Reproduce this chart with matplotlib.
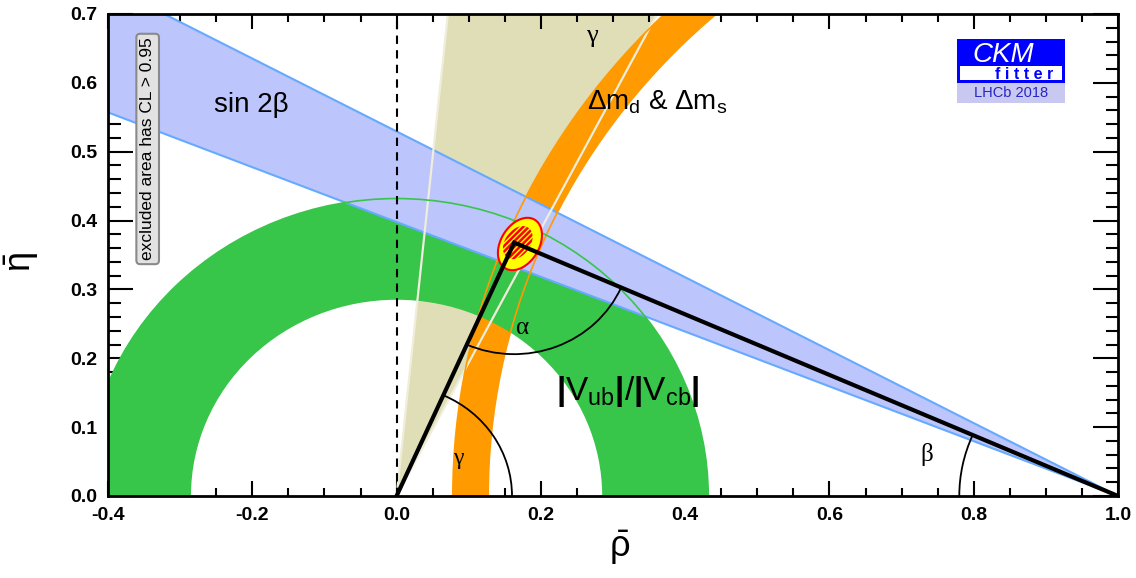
#imports
import numpy as np
import matplotlib
matplotlib.use('Agg')
import matplotlib.pyplot as plt
from matplotlib.patches import Polygon, Wedge, Arc, Rectangle
from matplotlib.ticker import MultipleLocator, FormatStrFormatter

plt.rcParams['font.family'] = 'Liberation Sans'
plt.rcParams['mathtext.fontset'] = 'custom'
plt.rcParams['mathtext.rm'] = 'Liberation Sans'
plt.rcParams['mathtext.it'] = 'Liberation Sans:italic'
plt.rcParams['mathtext.bf'] = 'Liberation Sans:bold'
plt.rcParams['axes.unicode_minus'] = False
plt.rcParams['hatch.linewidth'] = 1.8

# plot ranges
rho_range = [-0.4, 1.0]
eta_range = [0.0, 0.7]

# constraint bands
sin2beta_deg = [21.7, 27.9]        # band edges seen from (1,0)
gamma_deg = [62.7, 84.2]           # band edges seen from (0,0)
vub_radius = [0.285, 0.432]        # |Vub|/|Vcb| ring around (0,0)
dm_center = 1.06
dm_radius = [0.933, 0.982]         # dm_d & dm_s ring

# global fit
apex = [0.163, 0.368]
fit_center = [0.171, 0.366]
fit_width95 = [0.0305, 0.038]
fit_width68 = [0.0205, 0.024]
fit_tilt = 0.35

# angle arcs
arc_radius = {'alpha': 0.162, 'beta': 0.22, 'gamma': 0.16}

# colours
c_blue = '#bcc5fc'
c_blue_edge = '#66aaff'
c_green = '#37c54a'
c_orange = '#ff9a00'
c_beige = '#dfdeb6'
c_beige_line = '#f0eedb'

fig = plt.figure(figsize=(11.36, 5.78), dpi=100)
ax = fig.add_axes([108/1136, 82/578, 1010/1136, 482/578])
ax.set_xlim(rho_range)
ax.set_ylim(eta_range)

# gamma wedge from origin
far = 2.0
g_pts = [(0, 0)] + [(far*np.cos(np.radians(a)), far*np.sin(np.radians(a))) for a in gamma_deg]
ax.add_patch(Polygon(g_pts, closed=True, fc=c_beige, ec='none', zorder=1))

# dm ring
ax.add_patch(Wedge((dm_center, 0), dm_radius[1], 90, 180, width=dm_radius[1]-dm_radius[0],
                   fc=c_orange, ec='none', zorder=2))

# vub ring
ax.add_patch(Wedge((0, 0), vub_radius[1], 0, 180, width=vub_radius[1]-vub_radius[0],
                   fc=c_green, ec='none', zorder=3))

# sin 2beta band from (1,0)
b_pts = [(1, 0)] + [(1 - far*np.cos(np.radians(a)), far*np.sin(np.radians(a))) for a in sin2beta_deg]
ax.add_patch(Polygon(b_pts, closed=True, fc=c_blue, ec='none', zorder=4))
for a in sin2beta_deg:
    ax.plot([1, 1 - far*np.cos(np.radians(a))], [0, far*np.sin(np.radians(a))],
            color=c_blue_edge, lw=1.5, zorder=5)

# contour outlines drawn over the fills
for a in gamma_deg:
    ax.plot([0, far*np.cos(np.radians(a))], [0, far*np.sin(np.radians(a))],
            color=c_beige_line, lw=1.6, zorder=6)
for r in dm_radius:
    ax.add_patch(Arc((dm_center, 0), 2*r, 2*r, theta1=90, theta2=180,
                     color=c_orange, lw=1.2, zorder=6))
ax.add_patch(Arc((0, 0), 2*vub_radius[1], 2*vub_radius[1], theta1=0, theta2=180,
                 color=c_green, lw=1.2, zorder=6))

# rho = 0 line
ax.plot([0, 0], eta_range, color='black', lw=1.5, ls=(0, (4, 3)), zorder=6)

# global fit blob
t = np.linspace(0, 2*np.pi, 200)
ex = fit_center[0] + fit_width95[0]*np.cos(t)
ey = fit_center[1] + fit_width95[1]*np.sin(t + fit_tilt)
ax.add_patch(Polygon(np.column_stack([ex, ey]), closed=True, fc='yellow', ec='red', lw=1.5, zorder=7))
hx = fit_center[0] - 0.003 + fit_width68[0]*np.cos(t)
hy = fit_center[1] + 0.002 + fit_width68[1]*np.sin(t + fit_tilt)
ax.add_patch(Polygon(np.column_stack([hx, hy]), closed=True, fill=False, hatch='//////',
                     ec='red', lw=0, zorder=8))

# unitarity triangle
ax.plot([0, apex[0], 1], [0, apex[1], 0], color='black', lw=3, solid_joinstyle='miter', zorder=9)

ang_left = np.degrees(np.arctan2(-apex[1], -apex[0])) % 360
ang_right = np.degrees(np.arctan2(-apex[1], 1 - apex[0])) % 360
beta_ang = np.degrees(np.arctan2(apex[1], 1 - apex[0]))
gamma_ang = np.degrees(np.arctan2(apex[1], apex[0]))

ra, rb, rg = arc_radius['alpha'], arc_radius['beta'], arc_radius['gamma']
ax.add_patch(Arc(apex, 2*ra, 2*ra, theta1=ang_left, theta2=ang_right, color='black', lw=1.3, zorder=9))
ax.add_patch(Arc((1, 0), 2*rb, 2*rb, theta1=180 - beta_ang, theta2=180, color='black', lw=1.3, zorder=9))
ax.add_patch(Arc((0, 0), 2*rg, 2*rg, theta1=0, theta2=gamma_ang, color='black', lw=1.3, zorder=9))

# labels in the plot
greek = 'Liberation Serif'
ax.text(0.175, 0.244, 'α', family=greek, fontsize=18, ha='center', va='center', zorder=10)
ax.text(0.085, 0.055, 'γ', family=greek, fontsize=17, ha='center', va='center', zorder=10)
ax.text(0.735, 0.060, 'β', family=greek, fontsize=18, ha='center', va='center', zorder=10)
ax.text(0.271, 0.668, 'γ', family=greek, fontsize=19, ha='center', va='center', zorder=10)
ax.text(-0.202, 0.568, 'sin 2β', fontsize=20, ha='center', va='center', zorder=10)
ax.text(0.264, 0.572, r'$\mathrm{\Delta m_d}$ & $\mathrm{\Delta m_s}$', fontsize=20,
        ha='left', va='center', zorder=10)
ax.text(0.321, 0.152, r'$\mathbf{|}\mathrm{V_{ub}}\mathbf{|}\mathrm{/}\mathbf{|}\mathrm{V_{cb}}\mathbf{|}$',
        fontsize=24, ha='center', va='center', zorder=10)
ax.text(-0.345, 0.504, 'excluded area has CL > 0.95', rotation=90, fontsize=12.5,
        ha='center', va='center', zorder=10,
        bbox=dict(boxstyle='round,pad=0.22', fc='#e2e2e2', ec='#8a8a8a', lw=1.5))

# CKMfitter logo, placed in pixel units of the frame
def px(x, y):
    return ((x - 108) / 1010, (496 - y) / 482)

ax.add_patch(Rectangle(px(957, 83), 108/1010, 44/482, transform=ax.transAxes,
                       fc='#0000ff', ec='none', zorder=11))
ax.add_patch(Rectangle(px(960, 80), 102/1010, 14/482, transform=ax.transAxes,
                       fc='white', ec='none', zorder=12))
ax.add_patch(Rectangle(px(957, 103), 108/1010, 20/482, transform=ax.transAxes,
                       fc='#c8c8f0', ec='none', zorder=11))
ax.text(*px(1003, 62), 'CKM', transform=ax.transAxes, color='white', style='italic',
        fontsize=20, ha='center', va='baseline', zorder=13)
ax.text(*px(1024, 79), 'f i t t e r', transform=ax.transAxes, color='#0000ff', weight='bold',
        fontsize=11.5, ha='center', va='baseline', zorder=13)
ax.text(*px(1011, 93), 'LHCb 2018', transform=ax.transAxes, color='#2525c8',
        fontsize=10.5, ha='center', va='center', zorder=13)

# axes styling
for s in ax.spines.values():
    s.set_linewidth(2)
    s.set_zorder(20)
ax.xaxis.set_major_locator(MultipleLocator(0.2))
ax.xaxis.set_minor_locator(MultipleLocator(0.05))
ax.yaxis.set_major_locator(MultipleLocator(0.1))
ax.yaxis.set_minor_locator(MultipleLocator(0.02))
ax.xaxis.set_major_formatter(FormatStrFormatter('%.1f'))
ax.yaxis.set_major_formatter(FormatStrFormatter('%.1f'))
ax.tick_params(axis='both', which='both', direction='in', top=True, right=True, width=1.5)
ax.tick_params(axis='x', which='major', length=11, pad=8)
ax.tick_params(axis='x', which='minor', length=5.5)
ax.tick_params(axis='y', which='major', length=18, pad=8)
ax.tick_params(axis='y', which='minor', length=9)
for lab in ax.get_xticklabels() + ax.get_yticklabels():
    lab.set_fontweight('bold')
    lab.set_fontsize(14)

fig.text(620/1136, 1 - 548/578, r'$\bar{\mathrm{\rho}}$', fontsize=26, ha='center', va='center')
fig.text(22/1136, 1 - 262/578, r'$\bar{\mathrm{\eta}}$', fontsize=26, ha='center', va='center', rotation=90)

fig.savefig('out.png', dpi=100)
